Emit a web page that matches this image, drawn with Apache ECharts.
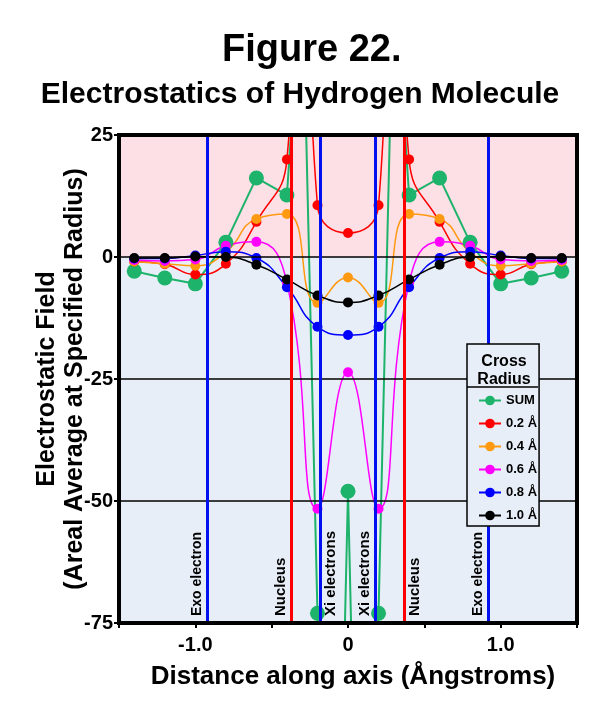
<!DOCTYPE html>
<html><head><meta charset="utf-8">
<script src="https://cdn.jsdelivr.net/npm/echarts@6/dist/echarts.min.js"></script>
<style>html,body{margin:0;padding:0;background:#fff}#c{width:600px;height:702px}</style>
</head><body><div id="c"></div>
<script>
// ---- data ----
const X = [-1.4,-1.2,-1.0,-0.8,-0.6,-0.4,-0.2,0,0.2,0.4,0.6,0.8,1.0,1.2,1.4];
const SUM = [-2.9,-4.3,-5.5,3.0,16.2,12.7,-73,-48,-73,12.7,16.2,3.0,-5.5,-4.3,-2.9];
const SUM_OFFSCALE_X = [-0.3,-0.1,0.1,0.3];
const SUM_OFFSCALE = [60,-183,-183,60];
const R02 = [-0.9,-1.5,-3.6,-1.4,7.2,20,10.6,4.9,10.6,20,7.2,-1.4,-3.6,-1.5,-0.9];
const R02_OFFSCALE_X = [-0.3,0.3];
const R02_OFFSCALE = [90,90];
const R04 = [-0.9,-1.4,-1.8,1.0,7.8,8.8,-9.4,-4.2,-9.4,8.8,7.8,1.0,-1.8,-1.4,-0.9];
const R06 = [-0.6,-0.8,-0.5,2.3,3.1,-5.3,-51.6,-23.6,-51.6,-5.3,3.1,2.3,-0.5,-0.8,-0.6];
const R08 = [-0.3,-0.3,0.3,1.1,-0.2,-6.2,-14.3,-16.0,-14.3,-6.2,-0.2,1.1,0.3,-0.3,-0.3];
const R10 = [-0.2,-0.2,0.1,0.0,-1.6,-4.6,-7.9,-9.3,-7.9,-4.6,-1.6,0.0,0.1,-0.2,-0.2];
const SERIES_NAMES = ['SUM','0.2 Å','0.4 Å','0.6 Å','0.8 Å','1.0 Å'];
const X_TICK_LABELS = {'-1':'-1.0','0':'0','1':'1.0'};
const Y_GRID = [0,-25,-50];
const MARKER_X = [-0.92,-0.37,-0.18,0.18,0.37,0.92];
const MARKER_LABELS = ['Exo electron','Nucleus','Xi electrons','Xi electrons','Nucleus','Exo electron'];
const X_MIN = -1.5, X_MAX = 1.5, Y_MIN = -75, Y_MAX = 25;

// ---- styles ----
const FONT = 'Liberation Sans, Arial, Helvetica, sans-serif';
const PINK = '#fde0e6', LIGHTBLUE = '#e8eef8';
const COLORS = ['#1db36b','#ff0000','#ff9a10','#ff00ff','#0000ff','#000000'];
const MARKER_COLORS = ['#0010ee','#ff0000','#0010ee','#0010ee','#ff0000','#0010ee'];
const MARKER_SIDE = ['insideStartTop','insideStartTop','insideStartBottom','insideStartTop','insideStartBottom','insideStartTop'];
const MARKER_FONT = [14,15,15,15,15,14];

function pairs(xs, ys, hx, hy) {
  const a = xs.map((x, i) => [x, ys[i]]);
  if (hx) hx.forEach((x, i) => a.push([x, hy[i]]));
  return a.sort((p, q) => p[0] - q[0]);
}
const seriesData = [
  pairs(X, SUM, SUM_OFFSCALE_X, SUM_OFFSCALE),
  pairs(X, R02, R02_OFFSCALE_X, R02_OFFSCALE),
  pairs(X, R04), pairs(X, R06), pairs(X, R08), pairs(X, R10)
];

const dataSeries = seriesData.map((d, i) => ({
  name: SERIES_NAMES[i], type: 'line', data: d,
  smooth: i === 0 ? false : 0.5,
  symbol: 'circle', symbolSize: i === 0 ? 15 : 10,
  lineStyle: { color: COLORS[i], width: i === 0 ? 2 : 1.5 },
  itemStyle: { color: COLORS[i] },
  z: 3, clip: true
}));

const bgSeries = {
  type: 'line', data: [], z: 1, silent: true,
  markArea: { silent: true, data: [
    [{ yAxis: 0, itemStyle: { color: PINK } }, { yAxis: Y_MAX }],
    [{ yAxis: Y_MIN, itemStyle: { color: LIGHTBLUE } }, { yAxis: 0 }]
  ] }
};
const lineSeries = {
  type: 'line', data: [], z: 2, silent: true,
  markLine: { silent: true, symbol: 'none', animation: false,
    data: Y_GRID.map(v => ({ yAxis: v, lineStyle: { color: '#000', width: 1.5, type: 'solid' }, label: { show: false } }))
      .concat(MARKER_X.map((v, i) => [
        { coord: [v, Y_MIN], lineStyle: { color: MARKER_COLORS[i], width: 3, type: 'solid' },
          label: { show: true, formatter: MARKER_LABELS[i], position: MARKER_SIDE[i], distance: [7, 3],
                   color: '#000', fontWeight: 'bold', fontSize: MARKER_FONT[i], fontFamily: FONT } },
        { coord: [v, Y_MAX] }
      ]))
  }
};

const axisLineStyle = { color: '#000', width: 4, cap: 'square' };
const option = {
  animation: false,
  backgroundColor: '#fff',
  textStyle: { fontFamily: FONT },
  title: [
    { text: 'Figure 22.', left: 217, top: 27, textStyle: { fontSize: 38, fontWeight: 'bold', color: '#000', fontFamily: FONT } },
    { text: 'Electrostatics of Hydrogen Molecule', left: 'center', top: 75, textStyle: { fontSize: 30, fontWeight: 'bold', color: '#000', fontFamily: FONT } },
    { text: 'Cross\nRadius', left: 499, top: 348, textAlign: 'center', z: 20,
      textStyle: { fontSize: 16, lineHeight: 18, fontWeight: 'bold', color: '#000', fontFamily: FONT } }
  ],
  grid: { left: 119, right: 23, top: 135, bottom: 79 },
  xAxis: [
    { type: 'value', min: X_MIN, max: X_MAX, interval: 0.5, z: 10,
      axisLine: { show: true, onZero: false, lineStyle: axisLineStyle },
      axisTick: { show: true, length: 5, lineStyle: { color: '#000', width: 2 } },
      splitLine: { show: false },
      axisLabel: { margin: 12, fontSize: 20, fontWeight: 'bold', color: '#000', fontFamily: FONT,
        formatter: v => (X_TICK_LABELS[String(Math.round(v * 10) / 10)] ?? '') },
      name: 'Distance along axis (Ångstroms)', nameLocation: 'middle', nameGap: 41,
      nameTextStyle: { fontSize: 26, fontWeight: 'bold', color: '#000', fontFamily: FONT, padding: [0, 0, 0, 10] } },
    { type: 'value', position: 'top', min: X_MIN, max: X_MAX, z: 10,
      axisLine: { show: true, onZero: false, lineStyle: axisLineStyle },
      axisTick: { show: false }, axisLabel: { show: false }, splitLine: { show: false } }
  ],
  yAxis: [
    { type: 'value', min: Y_MIN, max: Y_MAX, interval: 25, z: 10,
      axisLine: { show: true, onZero: false, lineStyle: axisLineStyle },
      axisTick: { show: true, length: 5, lineStyle: { color: '#000', width: 2 } },
      splitLine: { show: false },
      axisLabel: { margin: 6, fontSize: 20, fontWeight: 'bold', color: '#000', fontFamily: FONT },
      name: 'Electrostatic Field\n(Areal Average at Specified Radius)', nameLocation: 'middle', nameGap: 30,
      nameMoveOverlap: false,
      nameTextStyle: { fontSize: 25, lineHeight: 28, fontWeight: 'bold', color: '#000', fontFamily: FONT } },
    { type: 'value', position: 'right', min: Y_MIN, max: Y_MAX, z: 10,
      axisLine: { show: true, onZero: false, lineStyle: axisLineStyle },
      axisTick: { show: false }, axisLabel: { show: false }, splitLine: { show: false } }
  ],
  legend: {
    data: SERIES_NAMES, orient: 'vertical', left: 467, top: 344,
    padding: [50, 2, 4, 11], itemGap: 10, itemWidth: 22, itemHeight: 12,
    backgroundColor: LIGHTBLUE, borderColor: '#000', borderWidth: 1.5, z: 10,
    textStyle: { fontSize: 13, fontWeight: 'bold', color: '#000', fontFamily: FONT },
    selectedMode: false
  },
  graphic: [
    { type: 'line', z: 100, shape: { x1: 467, y1: 387, x2: 538, y2: 387 }, style: { stroke: '#000', lineWidth: 1.5 } }
  ],
  series: [bgSeries, lineSeries].concat(dataSeries)
};
const chart = echarts.init(document.getElementById('c'), null, { renderer: 'canvas' });
chart.setOption(option);
</script></body></html>
